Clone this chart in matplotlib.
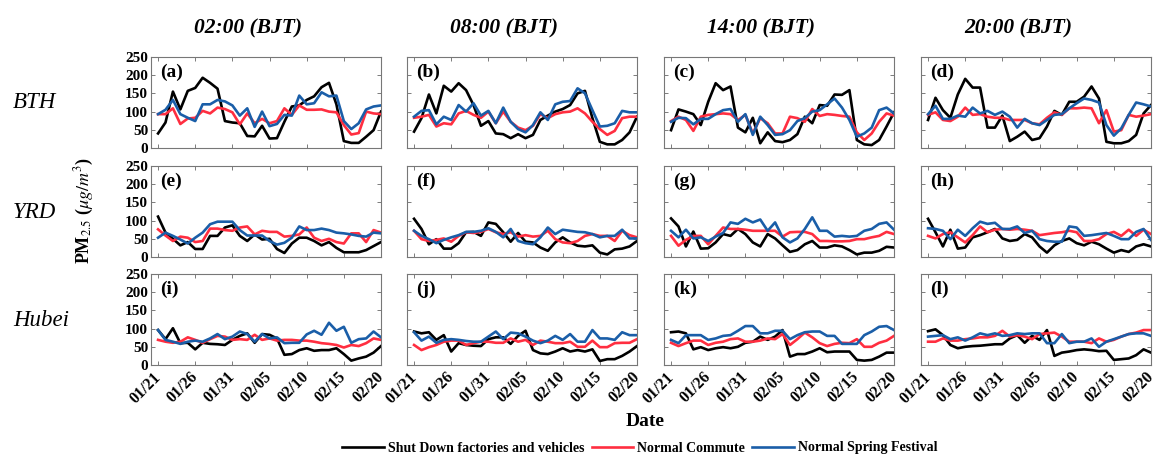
import matplotlib
matplotlib.use("Agg")
import matplotlib.pyplot as plt
import numpy as np

plt.rcParams["font.family"] = ["Liberation Serif", "DejaVu Serif"]
plt.rcParams["mathtext.fontset"] = "stix"

dates = ["01/21", "01/26", "01/31", "02/05", "02/10", "02/15", "02/20"]
n_days = 31
times = ["02:00 (BJT)", "08:00 (BJT)", "14:00 (BJT)", "20:00 (BJT)"]
regions = ["BTH", "YRD", "Hubei"]
panel_tags = ["(a)", "(b)", "(c)", "(d)", "(e)", "(f)", "(g)", "(h)", "(i)", "(j)", "(k)", "(l)"]

# BTH
shut_a = [40, 70, 155, 106, 157, 165, 193, 179, 163, 74, 70, 68, 33, 32, 61, 26, 27, 72, 114, 117, 132, 142, 167, 179, 120, 19, 14, 14, 31, 49, 100]
comm_a = [93, 93, 109, 66, 81, 83, 102, 95, 111, 107, 98, 65, 95, 68, 80, 68, 74, 109, 91, 117, 105, 105, 106, 100, 98, 63, 37, 41, 100, 95, 93]
fest_a = [93, 105, 132, 93, 83, 74, 120, 120, 132, 128, 117, 89, 109, 58, 100, 60, 66, 91, 89, 144, 120, 123, 153, 142, 144, 74, 52, 68, 106, 114, 117]

shut_b = [45, 82, 147, 95, 171, 155, 178, 159, 118, 61, 74, 40, 38, 27, 38, 27, 36, 77, 89, 100, 107, 118, 150, 157, 82, 17, 10, 10, 22, 43, 86]
comm_b = [83, 86, 91, 59, 68, 65, 95, 102, 91, 83, 100, 68, 100, 72, 56, 49, 61, 93, 82, 93, 98, 100, 109, 95, 72, 52, 36, 47, 82, 86, 86]
fest_b = [86, 102, 104, 65, 86, 77, 118, 100, 123, 89, 102, 68, 111, 72, 52, 43, 63, 98, 77, 120, 127, 129, 164, 150, 104, 59, 61, 68, 102, 98, 98]

shut_c = [49, 106, 100, 93, 63, 127, 178, 159, 169, 56, 43, 83, 13, 43, 19, 16, 22, 38, 86, 68, 118, 116, 147, 146, 159, 22, 10, 8, 22, 59, 98]
comm_c = [74, 86, 77, 47, 86, 91, 93, 95, 93, 77, 91, 40, 82, 68, 40, 40, 86, 82, 72, 107, 88, 93, 91, 88, 86, 43, 22, 40, 72, 95, 89]
fest_c = [72, 83, 82, 65, 80, 80, 93, 104, 107, 72, 93, 36, 86, 63, 36, 38, 49, 74, 82, 100, 104, 120, 136, 111, 77, 31, 40, 56, 104, 111, 95]

shut_d = [77, 138, 104, 83, 147, 190, 166, 166, 56, 56, 89, 19, 31, 45, 22, 27, 59, 102, 91, 127, 127, 141, 169, 136, 17, 13, 13, 19, 36, 95, 118]
comm_d = [91, 98, 77, 74, 86, 111, 91, 93, 86, 83, 83, 77, 77, 77, 68, 65, 83, 98, 91, 109, 109, 111, 109, 68, 104, 45, 49, 91, 86, 89, 93]
fest_d = [93, 116, 80, 80, 89, 86, 111, 95, 102, 91, 100, 86, 56, 80, 68, 63, 77, 91, 93, 109, 123, 136, 132, 125, 63, 34, 54, 91, 125, 120, 114]

# YRD
shut_e = [111, 67, 50, 32, 41, 22, 22, 58, 58, 81, 87, 58, 44, 62, 48, 50, 22, 11, 37, 53, 53, 44, 32, 41, 25, 13, 13, 13, 19, 30, 41]
comm_e = [76, 59, 44, 56, 53, 41, 44, 78, 78, 74, 72, 81, 84, 62, 72, 69, 69, 56, 58, 62, 81, 53, 44, 50, 41, 37, 65, 65, 41, 74, 67]
fest_e = [53, 67, 58, 48, 37, 53, 67, 90, 97, 97, 97, 74, 59, 59, 59, 44, 34, 39, 53, 84, 74, 74, 78, 74, 67, 65, 62, 58, 56, 67, 65]

shut_f = [105, 77, 35, 49, 23, 23, 38, 68, 69, 58, 95, 91, 68, 42, 66, 42, 40, 26, 17, 40, 54, 40, 31, 29, 32, 12, 7, 21, 23, 29, 44]
comm_f = [72, 49, 44, 47, 51, 42, 58, 68, 66, 69, 77, 68, 63, 68, 56, 60, 56, 58, 72, 49, 40, 38, 44, 58, 63, 58, 58, 44, 72, 60, 54]
fest_f = [72, 58, 49, 38, 47, 54, 60, 69, 69, 72, 79, 69, 54, 77, 44, 38, 35, 54, 81, 63, 75, 72, 69, 68, 63, 54, 58, 58, 75, 51, 51]

shut_g = [106, 84, 29, 70, 23, 24, 40, 63, 58, 77, 63, 40, 29, 63, 51, 32, 14, 19, 35, 44, 26, 26, 32, 29, 19, 7, 12, 12, 17, 28, 26]
comm_g = [58, 31, 47, 58, 58, 35, 58, 81, 77, 77, 75, 72, 72, 72, 72, 56, 68, 69, 69, 63, 44, 44, 43, 43, 44, 49, 49, 54, 58, 69, 63]
fest_g = [72, 54, 75, 51, 54, 44, 56, 66, 95, 91, 105, 95, 103, 72, 95, 54, 40, 51, 77, 109, 72, 72, 56, 58, 56, 58, 72, 77, 91, 95, 75]

shut_h = [105, 68, 29, 75, 23, 26, 54, 60, 68, 77, 51, 44, 47, 63, 54, 29, 12, 32, 44, 51, 38, 32, 42, 35, 23, 12, 19, 14, 29, 35, 29]
comm_h = [58, 51, 63, 68, 54, 40, 60, 84, 68, 75, 77, 75, 77, 75, 72, 60, 63, 66, 68, 72, 68, 44, 44, 49, 63, 69, 58, 75, 58, 75, 63]
fest_h = [79, 77, 72, 49, 75, 58, 79, 97, 91, 94, 77, 77, 84, 66, 72, 49, 44, 42, 42, 84, 81, 58, 60, 63, 66, 58, 49, 49, 69, 77, 47]

# Hubei
shut_i = [96, 71, 101, 60, 61, 43, 61, 58, 57, 55, 69, 80, 87, 61, 85, 83, 73, 28, 30, 41, 46, 39, 41, 41, 46, 30, 12, 18, 23, 34, 52]
comm_i = [69, 64, 61, 64, 76, 69, 61, 71, 80, 78, 69, 71, 69, 83, 69, 73, 67, 69, 69, 67, 67, 64, 60, 58, 55, 48, 55, 52, 60, 73, 69]
fest_i = [96, 69, 64, 58, 64, 67, 64, 73, 85, 71, 78, 92, 85, 64, 85, 73, 76, 60, 61, 61, 84, 94, 83, 116, 94, 105, 61, 71, 73, 92, 76]

shut_j = [92, 87, 90, 69, 82, 37, 60, 55, 53, 52, 71, 76, 76, 58, 80, 94, 41, 32, 30, 37, 46, 37, 41, 37, 43, 11, 16, 16, 25, 37, 52]
comm_j = [55, 41, 49, 55, 64, 67, 67, 55, 60, 64, 64, 61, 61, 73, 64, 69, 55, 67, 64, 60, 60, 64, 50, 50, 67, 49, 49, 60, 61, 61, 71]
fest_j = [90, 67, 78, 61, 69, 71, 69, 66, 64, 64, 78, 92, 71, 89, 87, 78, 67, 60, 67, 80, 69, 85, 64, 64, 96, 73, 73, 69, 90, 82, 82]

shut_k = [90, 92, 87, 43, 49, 41, 46, 49, 46, 50, 61, 64, 78, 69, 78, 96, 23, 30, 30, 37, 46, 35, 37, 37, 37, 14, 12, 14, 23, 34, 34]
comm_k = [61, 52, 60, 67, 67, 55, 61, 64, 71, 73, 64, 64, 67, 73, 71, 85, 55, 71, 89, 76, 60, 52, 58, 61, 60, 71, 50, 50, 61, 67, 80]
fest_k = [69, 60, 82, 82, 82, 69, 73, 80, 82, 94, 107, 107, 87, 87, 94, 94, 71, 82, 90, 92, 92, 80, 80, 58, 58, 58, 82, 92, 105, 107, 96]

shut_l = [93, 98, 82, 55, 46, 50, 52, 53, 55, 57, 57, 73, 82, 61, 80, 69, 96, 25, 34, 37, 41, 43, 41, 38, 39, 14, 16, 18, 27, 43, 34]
comm_l = [64, 64, 73, 67, 67, 71, 73, 76, 76, 80, 94, 78, 82, 78, 71, 85, 87, 89, 78, 64, 64, 64, 60, 73, 64, 69, 78, 85, 89, 96, 96]
fest_l = [78, 80, 82, 71, 76, 67, 76, 87, 82, 87, 80, 82, 87, 85, 87, 87, 60, 60, 85, 60, 64, 64, 73, 50, 64, 71, 78, 85, 87, 87, 80]

shut = [shut_a, shut_b, shut_c, shut_d, shut_e, shut_f, shut_g, shut_h, shut_i, shut_j, shut_k, shut_l]
comm = [comm_a, comm_b, comm_c, comm_d, comm_e, comm_f, comm_g, comm_h, comm_i, comm_j, comm_k, comm_l]
fest = [fest_a, fest_b, fest_c, fest_d, fest_e, fest_f, fest_g, fest_h, fest_i, fest_j, fest_k, fest_l]

labels = ["Shut Down factories and vehicles", "Normal Commute", "Normal Spring Festival"]
colors = ["#000000", "#ff2e40", "#1a5ea8"]

W, H = 1159, 457
fig = plt.figure(figsize=(W / 100, H / 100), dpi=100)

col_left = [151, 407, 664, 921]
row_top = [57, 166, 274]
aw, ah = 230, 91
x = np.arange(n_days)

for r in range(3):
    for c in range(4):
        k = r * 4 + c
        ax = fig.add_axes([col_left[c] / W, 1 - (row_top[r] + ah) / H, aw / W, ah / H])
        for s, col, lab in zip([shut[k], comm[k], fest[k]], colors, labels):
            ax.plot(x, s, color=col, lw=1.9, label=lab)
        ax.set_xlim(-0.95, 30)
        ax.set_ylim(0, 250)
        ax.set_yticks(range(0, 251, 50))
        ax.set_xticks(range(0, 31, 5))
        ax.tick_params(direction="in", top=True, right=True, length=3, width=0.6,
                       color="#666666", labelsize=11, pad=2)
        ax.tick_params(axis="x", pad=7)
        for sp in ax.spines.values():
            sp.set_color("#777777")
            sp.set_linewidth(0.8)
        if c == 0:
            ax.set_yticklabels([str(v) for v in range(0, 251, 50)], fontweight="bold")
        else:
            ax.set_yticklabels([])
        if r == 2:
            ax.set_xticklabels(dates, rotation=45, ha="right", va="center",
                               rotation_mode="anchor", fontweight="bold", fontsize=11.5)
        else:
            ax.set_xticklabels([])
        ax.text(0.04, 0.93, panel_tags[k], transform=ax.transAxes, ha="left", va="top",
                fontsize=14, fontweight="bold")
        if r == 0:
            fig.text((col_left[c] + aw / 2 - 18) / W, 1 - 28 / H, times[c], ha="center",
                     va="center", fontsize=15.5, fontweight="bold", style="italic")
        if c == 0:
            fig.text(13 / W, 1 - (row_top[r] + 46) / H, regions[r], ha="left", va="center",
                     fontsize=16.5, style="italic")

fig.text(84 / W, 1 - 210 / H, r"PM$_{2.5}$ ($\mu g/m^3$)", rotation=90, ha="center",
         va="center", fontsize=13, fontweight="bold")
fig.text(645 / W, 1 - 421 / H, "Date", ha="center", va="center", fontsize=14, fontweight="bold")

handles = fig.axes[0].get_lines()
fig.legend(handles, labels, loc="center", bbox_to_anchor=(640 / W, 1 - 448 / H), ncol=3,
           frameon=False, handlelength=3.0, columnspacing=0.5, handletextpad=0.3,
           prop={"weight": "bold", "size": 10})

fig.savefig("out.png", dpi=100)
